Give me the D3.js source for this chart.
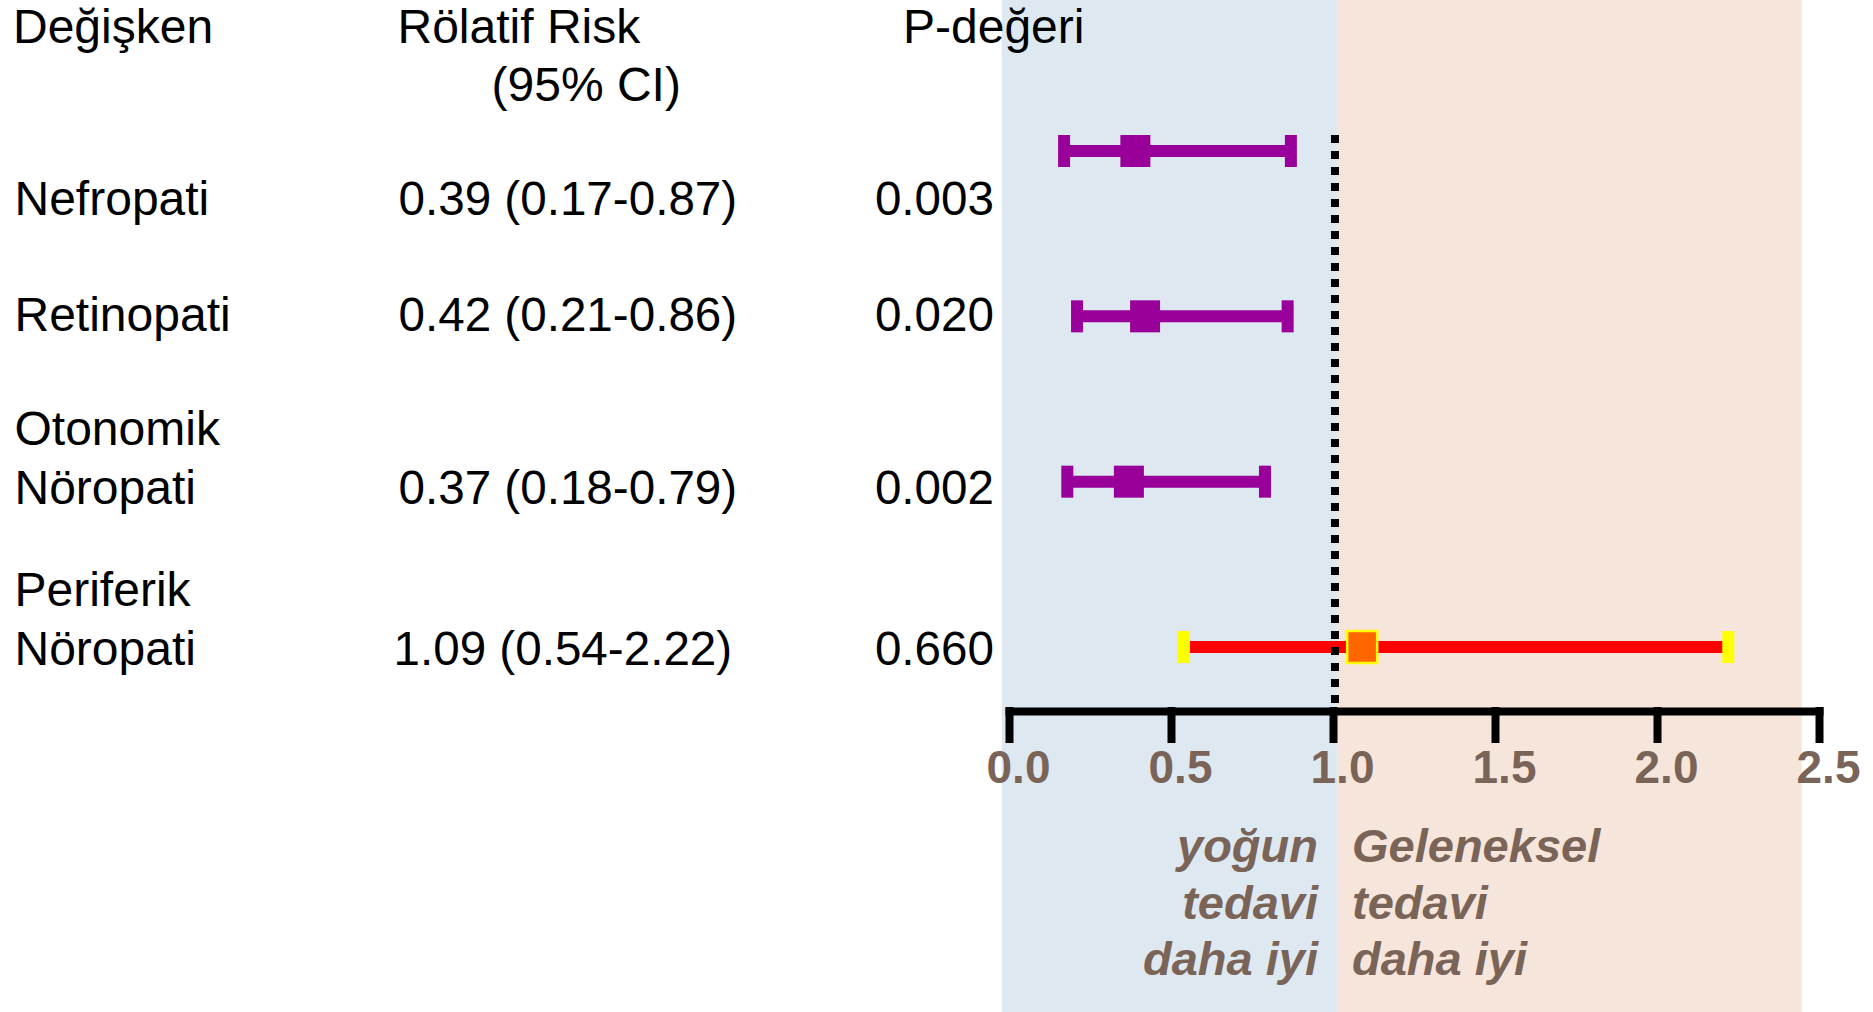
<!DOCTYPE html>
<html>
<head>
<meta charset="utf-8">
<script src="https://cdn.jsdelivr.net/npm/d3@7"></script>
<style>
  html, body { margin: 0; padding: 0; background: #ffffff; }
  svg { display: block; }
  text { font-family: "Liberation Sans", Arial, sans-serif; }
</style>
</head>
<body>
<svg id="chart" width="1873" height="1012"></svg>
<script>
// Forest plot: relative risk (95% CI) per complication
const rowNames   = [["Nefropati"], ["Retinopati"], ["Otonomik", "Nöropati"], ["Periferik", "Nöropati"]];
const riskLabels = ["0.39 (0.17-0.87)", "0.42 (0.21-0.86)", "0.37 (0.18-0.79)", "1.09 (0.54-2.22)"];
const pLabels    = ["0.003", "0.020", "0.002", "0.660"];
const estimate   = [0.39, 0.42, 0.37, 1.09];
const lower      = [0.17, 0.21, 0.18, 0.54];
const upper      = [0.87, 0.86, 0.79, 2.22];
const pValues    = [0.003, 0.020, 0.002, 0.660];
const xTicks     = [0, 0.5, 1.0, 1.5, 2.0, 2.5];
const headers    = ["Değişken", "Rölatif Risk", "(95% CI)", "P-değeri"];
const leftNote   = ["yoğun", "tedavi", "daha iyi"];
const rightNote  = ["Geleneksel", "tedavi", "daha iyi"];
// shaded zones in risk units
const zones      = [[-0.0225, 1.0145], [1.0145, 2.4466]];

const rows = estimate.map((e, i) => ({
  i, name: rowNames[i], label: riskLabels[i], p: pLabels[i],
  est: e, lo: lower[i], hi: upper[i], sig: pValues[i] < 0.05
}));

// layout
const textBaseline = [215, 331, 504, 665];
const lineGap = 58.6;
const brown = "#7a6357";

const svg = d3.select("#chart");
const x = d3.scaleLinear().domain([0, 2.5]).range([1009, 1819]);
const y = d3.scaleLinear().domain([0, rows.length - 1]).range([151, 647]);
const axisY = 711;

// background zones
svg.append("g").selectAll("rect").data(zones).join("rect")
  .attr("x", d => x(d[0]))
  .attr("y", 0)
  .attr("width", d => x(d[1]) - x(d[0]))
  .attr("height", 1012)
  .attr("fill", (d, i) => i === 0 ? "#dee8f1" : "#f6e5da");

// table text
const fs = 48;
const head = svg.append("g").attr("font-size", fs).attr("fill", "#000");
head.append("text").attr("x", 13).attr("y", 43).text(headers[0]);
head.append("text").attr("x", 397.5).attr("y", 43).text(headers[1]);
head.append("text").attr("x", 491.5).attr("y", 101).text(headers[2]);
head.append("text").attr("x", 903).attr("y", 43).text(headers[3]);

const tbl = svg.append("g").attr("font-size", fs).attr("fill", "#000");
rows.forEach(r => {
  const base = textBaseline[r.i];
  r.name.forEach((ln, k) => {
    tbl.append("text").attr("x", 14.5)
      .attr("y", base - (r.name.length - 1 - k) * lineGap).text(ln);
  });
  tbl.append("text").attr("x", r.i === 3 ? 393.5 : 398.5).attr("y", base)
    .attr("font-size", 47.6).text(r.label);
  tbl.append("text").attr("x", 994).attr("y", base)
    .attr("font-size", 47.6).attr("text-anchor", "end").text(r.p);
});

// CI lines
const plot = svg.append("g");
plot.selectAll("line.ci").data(rows).join("line")
  .attr("class", "ci")
  .attr("x1", d => x(d.lo)).attr("x2", d => x(d.hi))
  .attr("y1", d => y(d.i)).attr("y2", d => y(d.i))
  .attr("stroke", d => d.sig ? "#990099" : "#ff0000")
  .attr("stroke-width", 12);

// reference line at RR = 1
plot.append("line")
  .attr("x1", x(1) + 2).attr("x2", x(1) + 2)
  .attr("y1", y(0) - 16).attr("y2", axisY - 4)
  .attr("stroke", "#000").attr("stroke-width", 8)
  .attr("stroke-dasharray", "8,8");

// whisker caps
const capW = 12, capH = 32;
const caps = rows.flatMap(d => [{ d, v: d.lo }, { d, v: d.hi }]);
plot.selectAll("rect.cap").data(caps).join("rect")
  .attr("class", "cap")
  .attr("x", c => x(c.v) - capW / 2)
  .attr("y", c => y(c.d.i) - capH / 2)
  .attr("width", capW).attr("height", capH)
  .attr("fill", c => c.d.sig ? "#990099" : "#ffff00");

// point estimates
const sqW = 30, sqH = 32;
plot.selectAll("rect.est").data(rows).join("rect")
  .attr("class", "est")
  .attr("x", d => x(d.est) - sqW / 2)
  .attr("y", d => y(d.i) - sqH / 2)
  .attr("width", sqW).attr("height", sqH)
  .attr("fill", d => d.sig ? "#990099" : "#ff6600")
  .attr("stroke", d => d.sig ? "none" : "#ffff00")
  .attr("stroke-width", 2.5);

// x axis
const axis = d3.axisBottom(x)
  .tickValues(xTicks)
  .tickFormat(d3.format(".1f"))
  .tickSize(32)
  .tickSizeOuter(0)
  .tickPadding(7);

const gAxis = svg.append("g")
  .attr("transform", `translate(0,${axisY})`)
  .call(axis);
gAxis.select(".domain").attr("stroke", "#000").attr("stroke-width", 8)
  .attr("stroke-linecap", "square");
gAxis.selectAll(".tick line").attr("stroke", "#000").attr("stroke-width", 8)
  .attr("y1", -4);
gAxis.selectAll(".tick text")
  .attr("font-family", "\"Liberation Sans\", Arial, sans-serif")
  .attr("font-size", 46).attr("font-weight", "bold")
  .attr("fill", brown).attr("dx", 9);

// direction notes
const notes = svg.append("g")
  .attr("font-size", 47).attr("font-weight", "bold")
  .attr("font-style", "italic").attr("fill", brown);
const noteY = [862, 918.5, 975];
leftNote.forEach((t, k) => notes.append("text")
  .attr("x", 1318).attr("y", noteY[k]).attr("text-anchor", "end").text(t));
rightNote.forEach((t, k) => notes.append("text")
  .attr("x", 1352).attr("y", noteY[k]).text(t));
</script>
</body>
</html>
